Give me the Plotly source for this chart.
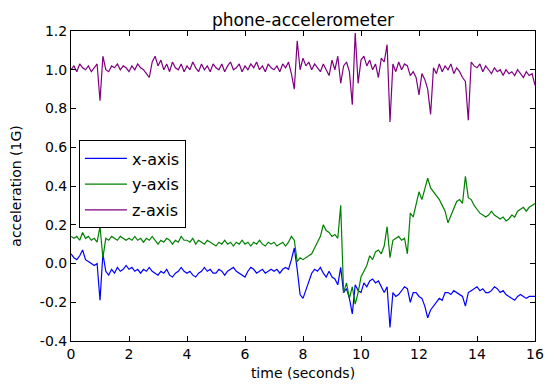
import plotly.graph_objects as go

time_s = [round(i * 0.1, 1) for i in range(161)]

x_axis = [
    0.05, 0.03, 0.02, 0.04, 0.07, 0.02, 0.01, 0.00, -0.01, 0.00,
    -0.19, 0.05, -0.04, -0.06, -0.03, -0.05, -0.02, -0.04, -0.03, -0.01,
    -0.03, -0.02, -0.04, -0.03, -0.05, -0.03, -0.04, -0.02, -0.04, -0.05,
    -0.06, -0.04, -0.05, -0.03, -0.06, -0.07, -0.05, -0.04, -0.02, -0.04,
    -0.05, -0.04, -0.06, -0.07, -0.05, -0.04, -0.02, -0.04, -0.03, -0.05,
    -0.05, -0.03, -0.04, -0.06, -0.04, -0.03, -0.02, -0.04, -0.05, -0.06,
    -0.07, -0.04, -0.02, -0.03, -0.05, -0.04, -0.03, -0.05, -0.04, -0.03,
    -0.04, -0.03, -0.05, -0.03, -0.02, -0.03, 0.02, 0.08, -0.03, -0.16,
    -0.18, -0.14, -0.10, -0.05, -0.03, -0.04, -0.02, -0.05, -0.07, -0.04,
    -0.07, -0.08, -0.11, -0.02, -0.15, -0.13, -0.18, -0.26, -0.11, -0.14,
    -0.15, -0.10, -0.12, -0.09, -0.08, -0.10, -0.09, -0.12, -0.15, -0.12,
    -0.33, -0.15, -0.17, -0.16, -0.14, -0.12, -0.13, -0.20, -0.15, -0.15,
    -0.17, -0.18, -0.22, -0.28, -0.24, -0.22, -0.20, -0.18, -0.19, -0.15,
    -0.15, -0.16, -0.14, -0.15, -0.16, -0.17, -0.22, -0.15, -0.14, -0.13,
    -0.12, -0.14, -0.13, -0.15, -0.15, -0.14, -0.12, -0.13, -0.15, -0.14,
    -0.16, -0.17, -0.18, -0.19, -0.17, -0.16, -0.17, -0.18, -0.17, -0.17,
    -0.17,
]

y_axis = [
    0.14, 0.13, 0.14, 0.12, 0.16, 0.13, 0.14, 0.12, 0.13, 0.11,
    0.19, 0.03, 0.13, 0.12, 0.14, 0.13, 0.12, 0.14, 0.13, 0.12,
    0.13, 0.12, 0.14, 0.12, 0.13, 0.11, 0.13, 0.12, 0.14, 0.12,
    0.10, 0.12, 0.11, 0.13, 0.12, 0.10, 0.12, 0.11, 0.14, 0.12,
    0.12, 0.11, 0.13, 0.10, 0.12, 0.11, 0.10, 0.12, 0.11, 0.10,
    0.09, 0.11, 0.10, 0.12, 0.10, 0.11, 0.09, 0.11, 0.10, 0.12,
    0.10, 0.11, 0.09, 0.11, 0.10, 0.12, 0.10, 0.09, 0.11, 0.10,
    0.11, 0.09, 0.10, 0.11, 0.09, 0.11, 0.14, 0.12, 0.01, 0.03,
    0.02, 0.03, 0.04, 0.05, 0.08, 0.11, 0.14, 0.20, 0.17, 0.16,
    0.14, 0.15, 0.13, 0.30, -0.15, -0.10, -0.18, -0.12, -0.21, -0.15,
    -0.07, -0.04, -0.01, 0.04, 0.02, 0.06, 0.07, 0.05, 0.09, 0.19,
    0.03, 0.12, 0.13, 0.14, 0.12, 0.13, 0.05, 0.26, 0.24, 0.31,
    0.37, 0.33, 0.38, 0.44, 0.39, 0.37, 0.35, 0.33, 0.30, 0.27,
    0.21, 0.25, 0.28, 0.32, 0.33, 0.31, 0.45, 0.34, 0.33, 0.30,
    0.28, 0.26, 0.25, 0.24, 0.25, 0.27, 0.25, 0.24, 0.23, 0.24,
    0.22, 0.23, 0.25, 0.24, 0.27, 0.28, 0.29, 0.27, 0.29, 0.30,
    0.31,
]

z_axis = [
    1.00, 1.02, 0.99, 1.03, 1.01, 1.00, 1.02, 0.99, 1.01, 1.03,
    0.84, 1.07, 1.00, 0.99, 1.02, 1.01, 1.03, 1.00, 1.02, 1.01,
    0.99, 1.02, 1.00, 1.03, 1.01, 1.00, 0.98, 0.96, 1.04, 1.07,
    1.02, 1.05, 1.00, 1.03, 0.99, 1.04, 1.01, 1.00, 1.03, 0.99,
    1.02, 1.00, 1.04, 1.01, 0.99, 1.03, 1.00, 1.02, 0.99, 1.03,
    1.01, 1.00, 1.03, 0.99, 1.02, 1.04, 1.00, 1.01, 1.03, 0.99,
    1.02, 1.00, 1.03, 1.01, 1.04, 1.00, 1.02, 0.99, 1.03, 1.01,
    1.00, 1.02, 0.99, 1.03, 1.01, 1.04, 0.98, 0.90, 1.15, 1.00,
    1.06, 1.02, 1.04, 1.00, 1.03, 1.01, 0.99, 1.03, 1.00, 0.97,
    1.05, 1.00, 1.07, 0.93, 1.02, 1.04, 0.99, 0.82, 1.19, 0.93,
    1.05, 1.07, 1.02, 1.05, 1.00, 1.03, 0.96, 1.06, 1.04, 1.13,
    0.73, 1.03, 0.99, 1.04, 1.00, 1.03, 1.02, 0.97, 0.99, 0.96,
    0.87, 0.98, 0.95, 0.90, 0.77, 1.01, 0.98, 1.03, 0.99, 1.02,
    1.00, 1.03, 0.98, 1.01, 0.99, 0.96, 0.94, 0.74, 1.04, 1.02,
    1.01, 1.03, 0.99, 1.02, 1.00, 0.98, 1.01, 0.99, 1.00, 0.97,
    1.00, 0.98, 0.99, 0.97, 1.00, 0.98, 0.96, 0.99, 0.97, 0.98,
    0.92,
]

series = [("x-axis", x_axis, "#0000ff"), ("y-axis", y_axis, "#008000"), ("z-axis", z_axis, "#800080")]

x_ticks = [0, 2, 4, 6, 8, 10, 12, 14, 16]
y_ticks = [-0.4, -0.2, 0.0, 0.2, 0.4, 0.6, 0.8, 1.0, 1.2]

fig = go.Figure()
for name, vals, color in series:
    fig.add_trace(go.Scatter(x=time_s, y=vals, mode="lines", name=name, legendgroup=name,
                             line=dict(color=color, width=1.2)))

font = "DejaVu Sans"
fig.update_layout(
    width=546, height=383,
    margin=dict(l=63, r=19, t=23, b=50),
    paper_bgcolor="white", plot_bgcolor="white",
    font=dict(family=font, size=14, color="black"),
    title=dict(text="phone-accelerometer", x=0.5, xanchor="center", xref="paper",
               y=1, yref="paper", yanchor="bottom", pad=dict(b=5),
               font=dict(family=font, size=17, color="black")),
    showlegend=True,
    legend=dict(x=0.017, y=0.647, xanchor="left", yanchor="top",
                bgcolor="white", bordercolor="black", borderwidth=1,
                itemwidth=42, tracegroupgap=2, traceorder="grouped",
                font=dict(family=font, size=16, color="black")),
)
fig.update_xaxes(range=[0, 16], tickvals=x_ticks, ticktext=[str(v) for v in x_ticks],
                 ticks="inside", ticklen=5, tickcolor="black", mirror="ticks",
                 showline=True, linecolor="black", linewidth=1, showgrid=False, zeroline=False,
                 automargin=False,
                 title=dict(text="time (seconds)", standoff=7, font=dict(size=14)),
                 tickfont=dict(size=14))
fig.update_yaxes(range=[-0.4, 1.2], tickvals=y_ticks, ticktext=[f"{v:.1f}" for v in y_ticks],
                 ticks="inside", ticklen=5, tickcolor="black", mirror="ticks",
                 showline=True, linecolor="black", linewidth=1, showgrid=False, zeroline=False,
                 automargin=False,
                 title=dict(text="acceleration (1G)", standoff=15, font=dict(size=14)),
                 tickfont=dict(size=14))

fig.write_html("out.html")
